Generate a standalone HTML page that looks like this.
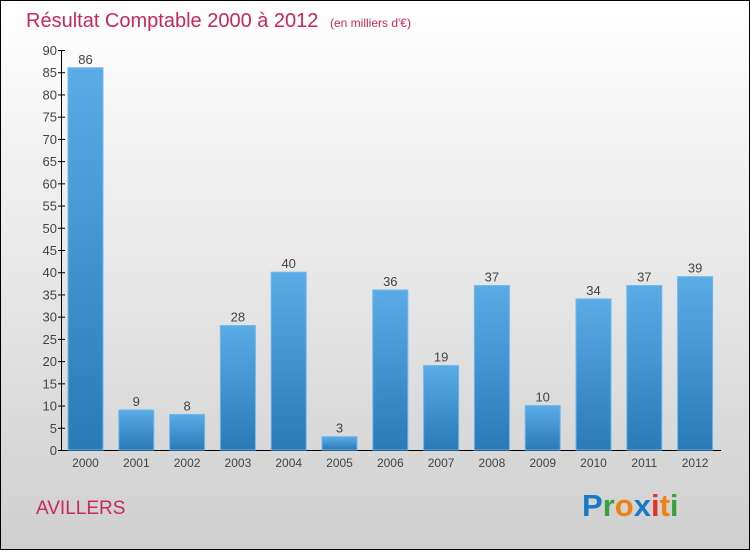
<!DOCTYPE html>
<html><head><meta charset="utf-8"><style>
html,body{margin:0;padding:0;}
body{width:750px;height:550px;overflow:hidden;font-family:"Liberation Sans",sans-serif;}
</style></head><body>
<svg id="chart" width="750" height="550" xmlns="http://www.w3.org/2000/svg">
<defs>
<linearGradient id="bg" x1="0" y1="0" x2="0" y2="1"><stop offset="0" stop-color="#ffffff"/><stop offset="1" stop-color="#cfcfcf"/></linearGradient>
<linearGradient id="bar" x1="0" y1="0" x2="0" y2="1"><stop offset="0" stop-color="#5aabe6"/><stop offset="1" stop-color="#2a7ab8"/></linearGradient>
</defs>
<rect x="0.5" y="0.5" width="749" height="549" fill="url(#bg)" stroke="#000"/>
<text x="26" y="27" font-size="20" fill="#c8285a">Résultat Comptable 2000 à 2012 <tspan font-size="12" dx="6">(en milliers d'€)</tspan></text>
<text x="36" y="514" font-size="19" fill="#c8285a">AVILLERS</text>
<g font-size="31" font-weight="bold" font-family="Liberation Sans, sans-serif">
<text x="582" y="516"><tspan fill="#1a78c8">P</tspan><tspan fill="#3aa040">r</tspan><tspan fill="#f08010">o</tspan><tspan fill="#1a78c8">x</tspan><tspan fill="#e83020">i</tspan><tspan fill="#f08010">t</tspan><tspan fill="#3aa040">i</tspan></text>
</g>
<g id="plot"></g>
</svg>
<script>
const categories=["2000","2001","2002","2003","2004","2005","2006","2007","2008","2009","2010","2011","2012"];
const values=[86,9,8,28,40,3,36,19,37,10,34,37,39];
const yTicks=[0,5,10,15,20,25,30,35,40,45,50,55,60,65,70,75,80,85,90];
const NS="http://www.w3.org/2000/svg";
const g=document.getElementById('plot');
const y=v=>450-v*(400/90);
const x=i=>85.5+i*50.8;
function mk(t,a){const e=document.createElementNS(NS,t);for(const k in a)e.setAttribute(k,a[k]);g.appendChild(e);return e;}
let ax=mk('line',{x1:61.5,y1:50,x2:61.5,y2:450.5,stroke:'#000'});


let bx=mk('line',{x1:61,y1:450.5,x2:721,y2:450.5,stroke:'#000'});


yTicks.forEach(v=>{
 const tk=mk('line',{x1:58,x2:65,y1:y(v)+0.5,y2:y(v)+0.5,stroke:'#000'});
 
 
 const t=mk('text',{x:57,y:y(v)+5,'text-anchor':'end','font-size':13,fill:'#444'});
 t.textContent=v;
 
 
});
categories.forEach((c,i)=>{
 const r=mk('rect',{x:x(i)-17.5,y:y(values[i]),width:35,height:450-y(values[i]),fill:'url(#bar)',stroke:'#6cb8ee','stroke-width':1});
 
 
 const v=mk('text',{x:x(i),y:y(values[i])-4,'text-anchor':'middle','font-size':13,fill:'#444'});
 v.textContent=values[i];
 
 
 const t=mk('text',{x:x(i),y:467,'text-anchor':'middle','font-size':12,fill:'#444'});
 t.textContent=c;
 
 
});
</script>
</body></html>
